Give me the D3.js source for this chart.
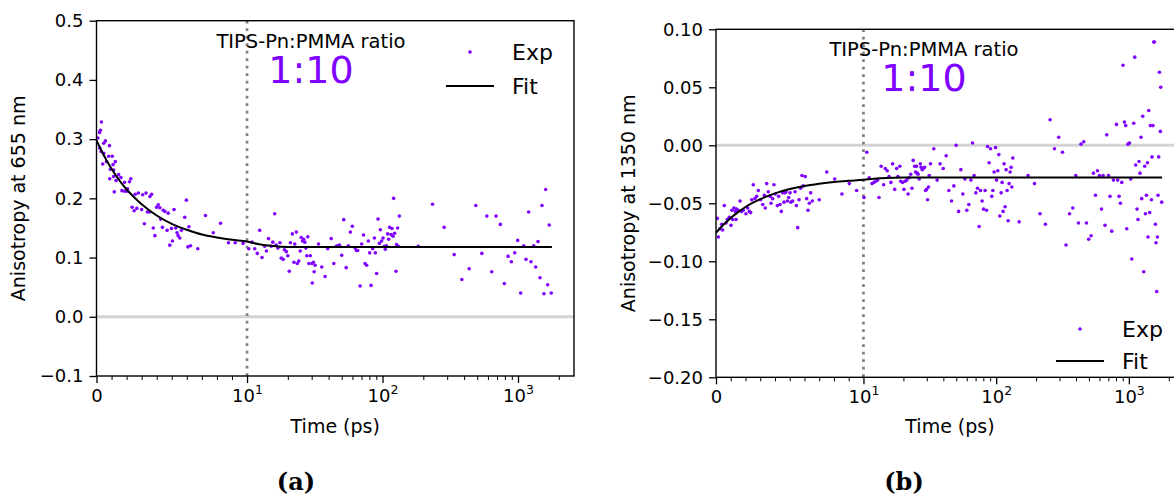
<!DOCTYPE html>
<html>
<head>
<meta charset="utf-8">
<script src="https://cdn.jsdelivr.net/npm/d3@7"></script>
<style>
body { margin: 0; background: white; }
svg { font-family: "DejaVu Sans", sans-serif; }
</style>
</head>
<body>
<div id="canvas"></div>
<script>
"use strict"

/* Panel (a): anisotropy at 655 nm, time in ps */
let expTimeA = [0.33, 0.26, 0.2, 0.09, 0.59, 0.48, 0.86, 0.22, 0.31, 0.48, 0.81, 1.05, 0.66, 0.41, 1.25, 1.1,
    0.92, 1.14, 1.47, 1.14, 1.62, 0.88, 1.3, 2.28, 1.86, 2.19, 1.18, 1.69, 1.86, 2.02, 2.06, 2.57, 2.78, 3.07,
    3.29, 3.55, 3.66, 5.97, 2.37, 2.68, 2.5, 3.0, 4.1, 3.99, 4.21, 4.54, 4.43, 4.76, 5.15, 3.38, 3.51, 4.26,
    3.18, 5.86, 7.24, 8.24, 3.77, 4.38, 4.98, 5.26, 4.69, 6.14, 5.64, 3.88, 5.35, 5.42, 5.53, 7.76, 5.04, 4.87,
    6.07, 6.25, 6.73, 8.77, 9.21, 9.74,
    10.3, 10.9, 11.4, 11.9, 12.4, 12.9, 13.5, 13.9, 14.4, 15.1, 15.5, 16.0, 16.4, 16.9, 17.5, 17.9, 18.5, 18.9,
    19.5, 20.0, 20.5, 20.9, 21.6, 22.2, 22.5, 23.1, 23.5, 24.1, 24.7, 25.1, 25.7, 26.2, 26.7, 27.2, 27.6, 28.1,
    28.6, 29.3, 30.1, 30.3, 30.9, 31.3, 31.8, 33.7, 35.6, 37.7, 39.4, 41.8, 43.7, 45.5, 46.7, 48.1, 50.0, 51.7,
    53.9, 56.0, 57.9, 59.9, 62.8, 64.2, 65.6, 68.3, 70.2, 72.3, 74.3, 76.4, 78.6, 80.4, 82.3, 84.6, 87.1, 88.5,
    90.5, 92.7, 94.8, 96.4, 98.5, 100.9, 103.1, 104.9, 106.7, 109.1, 111, 112.9, 115.6, 117.5, 119.6, 120.8,
    122.8, 125.8, 127, 129.2, 130.8, 133,
    183.5, 234, 285, 338, 385, 436, 488, 541, 589, 640, 689, 741, 793, 845, 893, 946, 995, 1047, 1102, 1146,
    1199, 1247, 1306, 1351, 1405, 1453, 1503, 1555, 1600, 1656, 1701, 1760];
let expValA = [0.329, 0.315, 0.311, 0.302, 0.297, 0.293, 0.289, 0.285, 0.279, 0.276, 0.271, 0.271, 0.262, 0.258,
    0.262, 0.257, 0.249, 0.248, 0.240, 0.237, 0.235, 0.233, 0.230, 0.233, 0.227, 0.228, 0.211, 0.213, 0.212,
    0.212, 0.216, 0.207, 0.209, 0.206, 0.209, 0.203, 0.207, 0.197, 0.185, 0.183, 0.179, 0.181, 0.189, 0.185,
    0.184, 0.178, 0.180, 0.175, 0.181, 0.177, 0.177, 0.165, 0.157, 0.168, 0.171, 0.158, 0.150, 0.151, 0.149,
    0.150, 0.146, 0.152, 0.146, 0.137, 0.142, 0.137, 0.133, 0.142, 0.128, 0.121, 0.118, 0.120, 0.115, 0.125,
    0.125, 0.124,
    0.115, 0.126, 0.115, 0.107, 0.146, 0.100, 0.119, 0.111, 0.132, 0.119, 0.126, 0.174, 0.121, 0.116, 0.125,
    0.099, 0.097, 0.113, 0.110, 0.103, 0.077, 0.125, 0.140, 0.092, 0.123, 0.143, 0.090, 0.094, 0.111, 0.134,
    0.128, 0.131, 0.126, 0.116, 0.103, 0.135, 0.090, 0.103, 0.090, 0.057, 0.092, 0.076, 0.087, 0.123, 0.084,
    0.068, 0.115, 0.132, 0.090, 0.119, 0.120, 0.121, 0.104, 0.164, 0.083, 0.120, 0.143, 0.153, 0.116, 0.112,
    0.112, 0.052, 0.123, 0.138, 0.090, 0.087, 0.128, 0.108, 0.053, 0.115, 0.133, 0.108, 0.073, 0.165, 0.124,
    0.147, 0.128, 0.133, 0.119, 0.114, 0.120, 0.140, 0.131, 0.151, 0.139, 0.149, 0.136, 0.200, 0.141, 0.077,
    0.122, 0.150, 0.119, 0.170,
    0.119, 0.190, 0.151, 0.105, 0.063, 0.081, 0.188, 0.107, 0.170, 0.076, 0.170, 0.156, 0.056, 0.102, 0.093,
    0.108, 0.129, 0.040, 0.120, 0.097, 0.177, 0.093, 0.120, 0.084, 0.127, 0.066, 0.188, 0.039, 0.215, 0.054,
    0.155, 0.040];
let fitTimeA = [0, 0.5, 1, 1.5, 2, 2.5, 3, 4, 5, 6, 7, 8, 9, 10, 12, 15, 20, 30, 100, 1780];
let fitValA = [0.298, 0.272, 0.250, 0.231, 0.215, 0.202, 0.190, 0.171, 0.157, 0.147, 0.139, 0.134, 0.130, 0.127,
    0.123, 0.120, 0.118, 0.118, 0.118, 0.118];

/* Panel (b): anisotropy at 1350 nm */
let expTimeB = [0.09, 0.16, 0.27, 0.39, 0.45, 0.56, 0.68, 0.77, 0.9, 1.02, 1.08, 1.13, 1.22, 1.31, 1.4, 1.36,
    1.51, 1.63, 1.74, 1.85, 2.03, 2.15, 2.26, 2.35, 2.42, 2.53, 2.64, 2.76, 2.87, 3.03, 3.17, 3.28, 3.34, 3.44,
    3.55, 3.66, 3.73, 3.84, 3.93, 4.02, 4.16, 4.25, 4.34, 4.43, 4.52, 4.61, 4.68, 4.75, 4.84, 4.93, 5.02, 5.08,
    5.2, 5.36, 5.45, 5.63, 5.74, 5.83, 5.92, 6.05, 6.15, 6.24, 6.33, 6.42, 6.53, 5.54, 7.0, 7.51, 8.05, 8.54,
    9.04, 9.54,
    10.1, 10.6, 11.05, 11.6, 12.0, 12.4, 12.8, 13.1, 13.6, 14.2, 14.6, 15.1, 15.6, 16.1, 16.6, 17.2, 17.8, 18.2,
    18.8, 19.1, 19.7, 20.2, 20.6, 21.2, 21.7, 22.1, 22.7, 23.2, 23.7, 24.3, 24.7, 25.1, 25.4, 25.8, 26.3, 26.8,
    27.2, 27.7, 28.2, 28.9, 29.4, 29.9, 30.4, 30.9, 31.3, 32.0, 33.9, 35.9, 37.8, 39.9, 42.0, 44.0, 46.1, 48.0,
    49.9, 52.1, 54.2, 56.1, 58.1, 60.1, 62.2, 64.5, 66.4, 68.2, 70.3, 72.4, 74.4, 76.2, 78.4, 80.3, 82.6, 84.6,
    86.1, 88.5, 90.7, 92.7, 94.4, 96.5, 98.9, 100.6, 102.9, 104.7, 106.6, 109, 110.9, 112.8, 114.8, 116.8,
    118.9, 120.9, 123.1, 125.2, 127.4, 129.6, 131.2, 133.5, 148.9,
    174, 194.5, 214, 235, 255, 275, 296, 316, 336, 357, 378, 398, 417, 436, 457, 479, 498, 519, 541, 560, 580,
    600, 622, 639, 661, 681, 702, 721, 743, 765, 806, 824, 843, 864, 884, 904, 926, 947, 964, 985, 1010, 1033,
    1051, 1088, 1107, 1126, 1152, 1172, 1193, 1213, 1235, 1250, 1272, 1294, 1316, 1333, 1356, 1380, 1394,
    1411, 1436, 1453, 1479, 1494, 1520, 1539, 1558, 1585, 1601, 1621, 1641, 1658, 1678, 1698, 1728, 1738, 1768];
let expValB = [-0.063, -0.079, -0.072, -0.068, -0.073, -0.052, -0.067, -0.064, -0.062, -0.069, -0.056, -0.064,
    -0.054, -0.057, -0.055, -0.064, -0.056, -0.048, -0.057, -0.056, -0.059, -0.054, -0.057, -0.058, -0.047,
    -0.034, -0.046, -0.044, -0.039, -0.047, -0.051, -0.043, -0.054, -0.033, -0.040, -0.044, -0.050, -0.046,
    -0.034, -0.042, -0.052, -0.044, -0.051, -0.057, -0.041, -0.049, -0.041, -0.040, -0.048, -0.045, -0.041,
    -0.049, -0.048, -0.040, -0.052, -0.047, -0.037, -0.026, -0.035, -0.027, -0.046, -0.056, -0.050, -0.041,
    -0.048, -0.071, -0.047, -0.023, -0.029, -0.042, -0.033, -0.039,
    -0.045, -0.006, -0.028, -0.033, -0.032, -0.031, -0.030, -0.045, -0.018, -0.034, -0.020, -0.022, -0.027,
    -0.032, -0.016, -0.038, -0.020, -0.027, -0.018, -0.031, -0.032, -0.038, -0.031, -0.030, -0.042, -0.028,
    -0.025, -0.037, -0.013, -0.018, -0.023, -0.018, -0.024, -0.025, -0.029, -0.016, -0.019, -0.021, -0.020,
    -0.019, -0.039, -0.038, -0.047, -0.036, -0.026, -0.016, -0.003, -0.030, -0.016, -0.020, -0.009, -0.039,
    -0.048, -0.035, 0.000, -0.057, -0.021, -0.042, -0.029, -0.056, -0.051, -0.030, 0.002, -0.026, -0.041,
    -0.037, -0.070, -0.039, -0.048, -0.055, -0.039, -0.056, -0.001, -0.015, -0.003, -0.044, -0.039, -0.023,
    -0.002, -0.030, -0.022, -0.008, -0.061, -0.041, -0.032, -0.057, -0.016, -0.053, -0.021, -0.039, -0.065,
    -0.033, -0.023, -0.019, -0.036, -0.011, -0.066,
    -0.026, -0.033, -0.059, -0.068, 0.022, -0.003, 0.007, -0.006, -0.086, -0.059, -0.054, -0.026, -0.067,
    0.001, 0.003, -0.067, -0.081, -0.078, -0.024, -0.043, -0.022, -0.026, -0.055, -0.026, -0.069, 0.009,
    -0.026, -0.044, -0.074, -0.030, 0.018, -0.030, -0.044, -0.050, -0.032, 0.069, 0.020, 0.017, -0.072, 0.001,
    0.002, -0.029, -0.098, 0.019, 0.076, -0.017, -0.055, -0.064, -0.014, -0.024, 0.007, -0.046, 0.025, -0.109,
    -0.018, -0.059, -0.043, -0.015, -0.079, 0.030, -0.058, 0.017, -0.047, -0.010, 0.017, 0.089, 0.089, -0.068,
    -0.084, -0.126, -0.079, -0.043, -0.010, 0.063, 0.012, 0.050, -0.049];
let fitTimeB = [0, 0.5, 1, 1.5, 2, 2.5, 3, 4, 5, 6, 7, 8, 9, 10, 12, 15, 20, 30, 100, 1780];
let fitValB = [-0.0754, -0.0685, -0.0626, -0.0576, -0.0532, -0.0495, -0.0464, -0.0414, -0.0377, -0.0350,
    -0.0331, -0.0316, -0.0306, -0.0298, -0.0288, -0.0281, -0.0278, -0.0277, -0.0277, -0.0277];

/* Tick values and labels */
let xTickValues = [0, 10, 100, 1000];
let xTickBase = ["0", "10", "10", "10"];
let xTickExp = ["", "1", "2", "3"];
let xMinorTicks = [1, 2, 3, 4, 5, 6, 7, 8, 9, 20, 30, 40, 50, 60, 70, 80, 90,
    200, 300, 400, 500, 600, 700, 800, 900, 2000];
let yTicksA = [-0.1, 0.0, 0.1, 0.2, 0.3, 0.4, 0.5];
let yTickLabelsA = ["\u22120.1", "0.0", "0.1", "0.2", "0.3", "0.4", "0.5"];
let yTicksB = [-0.20, -0.15, -0.10, -0.05, 0.00, 0.05, 0.10];
let yTickLabelsB = ["\u22120.20", "\u22120.15", "\u22120.10", "\u22120.05", "0.00", "0.05", "0.10"];

/* Configuration: drawing */
let svgWidth = 1174;
let svgHeight = 498;
let purple = "#8000ff";

let svg = d3.select("#canvas")
    .append("svg")
    .attr("width", svgWidth)
    .attr("height", svgHeight);

/* matplotlib style symlog, linthresh 10, linscale 1 */
function symlog(t) {
    let linScale = 1 / (1 - 1 / 10);
    if (t <= 10) return t / 10 * linScale;
    return linScale + Math.log10(t / 10);
}

function drawPanel(p) {
    let g = svg.append("g");
    let tMax = symlog(d3.max(p.expTime)) * 1.05;

    let xScale = d3.scaleLinear()
        .domain([0, tMax])
        .range([p.left, p.right]);
    let yScale = d3.scaleLinear()
        .domain(p.yDomain)
        .range([p.bottom, p.top]);
    let x = function(t) { return xScale(symlog(t)); };

    /* clip for the part of the axes that runs off the figure */
    let clipId = "clip" + p.name;
    g.append("clipPath").attr("id", clipId)
        .append("rect")
        .attr("x", p.left).attr("y", p.top)
        .attr("width", p.right - p.left).attr("height", p.bottom - p.top);

    let plot = g.append("g").attr("clip-path", "url(#" + clipId + ")");

    /* zero line */
    plot.append("line")
        .attr("x1", p.left).attr("x2", p.right)
        .attr("y1", yScale(0)).attr("y2", yScale(0))
        .attr("stroke", "#d3d3d3")
        .attr("stroke-width", 3);

    /* dotted line at 10 ps */
    plot.append("line")
        .attr("x1", x(10)).attr("x2", x(10))
        .attr("y1", p.top).attr("y2", p.bottom)
        .attr("stroke", "#7f7f7f")
        .attr("stroke-width", 2.7)
        .attr("stroke-dasharray", "2.7,4.8");

    /* experimental points */
    plot.selectAll("circle.exp")
        .data(d3.range(p.expTime.length))
        .join("circle")
        .attr("class", "exp")
        .attr("cx", function(i) { return x(p.expTime[i]); })
        .attr("cy", function(i) { return yScale(p.expVal[i]); })
        .attr("r", 1.8)
        .attr("fill", purple);

    /* fit */
    let fitLine = d3.line()
        .x(function(i) { return x(p.fitTime[i]); })
        .y(function(i) { return yScale(p.fitVal[i]); })
        .curve(d3.curveMonotoneX);
    plot.append("path")
        .attr("d", fitLine(d3.range(p.fitTime.length)))
        .attr("fill", "none")
        .attr("stroke", "black")
        .attr("stroke-width", 2);

    /* x axis, major */
    let xAxis = g.append("g")
        .attr("transform", "translate(0," + p.bottom + ")")
        .call(d3.axisBottom(xScale)
            .tickValues(xTickValues.map(symlog))
            .tickFormat(function(d, i) { return xTickBase[i]; })
            .tickSize(7)
            .tickPadding(6));
    xAxis.select(".domain").remove();
    xAxis.selectAll("line").attr("stroke-width", 1.3);
    xAxis.selectAll("text")
        .attr("font-size", 18)
        .attr("font-family", "DejaVu Sans")
        .attr("fill", "black")
        .append("tspan")
        .attr("dy", -8)
        .attr("font-size", 12.5)
        .text(function(d, i) { return xTickExp[i]; });

    /* x axis, minor */
    let xMinor = g.append("g")
        .attr("transform", "translate(0," + p.bottom + ")")
        .call(d3.axisBottom(xScale)
            .tickValues(xMinorTicks.map(symlog).filter(function(v) { return v <= tMax; }))
            .tickFormat("")
            .tickSize(4));
    xMinor.select(".domain").remove();
    xMinor.selectAll("line").attr("stroke-width", 1);

    /* y axis */
    let yAxis = g.append("g")
        .attr("transform", "translate(" + p.left + ",0)")
        .call(d3.axisLeft(yScale)
            .tickValues(p.yTicks)
            .tickFormat(function(d, i) { return p.yTickLabels[i]; })
            .tickSize(7)
            .tickPadding(6));
    yAxis.select(".domain").remove();
    yAxis.selectAll("line").attr("stroke-width", 1.3);
    yAxis.selectAll("text")
        .attr("font-size", 18)
        .attr("font-family", "DejaVu Sans")
        .attr("fill", "black");

    /* spines */
    g.append("rect")
        .attr("x", p.left).attr("y", p.top)
        .attr("width", p.right - p.left).attr("height", p.bottom - p.top)
        .attr("fill", "none")
        .attr("stroke", "black")
        .attr("stroke-width", 1.4);

    /* axis labels */
    g.append("text")
        .attr("x", (p.left + p.right) / 2)
        .attr("y", 433)
        .attr("text-anchor", "middle")
        .attr("font-size", 19)
        .text("Time (ps)");

    g.append("text")
        .attr("transform", "translate(" + p.yLabelX + "," + (p.top + p.bottom) / 2 + ") rotate(-90)")
        .attr("text-anchor", "middle")
        .attr("font-size", 19)
        .text(p.yLabel);

    /* annotation */
    g.append("text")
        .attr("x", p.noteX).attr("y", p.top + 27)
        .attr("text-anchor", "middle")
        .attr("font-size", 19.5)
        .text("TIPS-Pn:PMMA ratio");
    g.append("text")
        .attr("x", p.noteX).attr("y", p.top + 62)
        .attr("text-anchor", "middle")
        .attr("font-size", 38)
        .attr("fill", purple)
        .text("1:10");

    /* legend */
    g.append("circle")
        .attr("cx", p.legX + 24).attr("cy", p.legY)
        .attr("r", 1.8)
        .attr("fill", purple);
    g.append("text")
        .attr("x", p.legX + 66).attr("y", p.legY + 8)
        .attr("font-size", 22)
        .text("Exp");
    g.append("line")
        .attr("x1", p.legX).attr("x2", p.legX + 48)
        .attr("y1", p.legY + p.legGap).attr("y2", p.legY + p.legGap)
        .attr("stroke", "black")
        .attr("stroke-width", 2);
    g.append("text")
        .attr("x", p.legX + 66).attr("y", p.legY + p.legGap + 8)
        .attr("font-size", 22)
        .text("Fit");

    /* sub caption */
    g.append("text")
        .attr("x", p.captionX).attr("y", 490)
        .attr("text-anchor", "middle")
        .attr("font-family", "DejaVu Serif")
        .attr("font-weight", "bold")
        .attr("font-size", 24)
        .text(p.caption);
}

drawPanel({
    name: "A",
    left: 96.5, right: 574, top: 20.7, bottom: 376,
    yDomain: [-0.1, 0.5], yTicks: yTicksA, yTickLabels: yTickLabelsA,
    expTime: expTimeA, expVal: expValA, fitTime: fitTimeA, fitVal: fitValA,
    yLabel: "Anisotropy at 655 nm", yLabelX: 25,
    noteX: 311, legX: 446, legY: 52, legGap: 34,
    caption: "(a)", captionX: 296
});

drawPanel({
    name: "B",
    left: 716, right: 1184, top: 29.3, bottom: 377.3,
    yDomain: [-0.2, 0.1], yTicks: yTicksB, yTickLabels: yTickLabelsB,
    expTime: expTimeB, expVal: expValB, fitTime: fitTimeB, fitVal: fitValB,
    yLabel: "Anisotropy at 1350 nm", yLabelX: 635,
    noteX: 924, legX: 1056, legY: 329, legGap: 32,
    caption: "(b)", captionX: 904
});
</script>
</body>
</html>
